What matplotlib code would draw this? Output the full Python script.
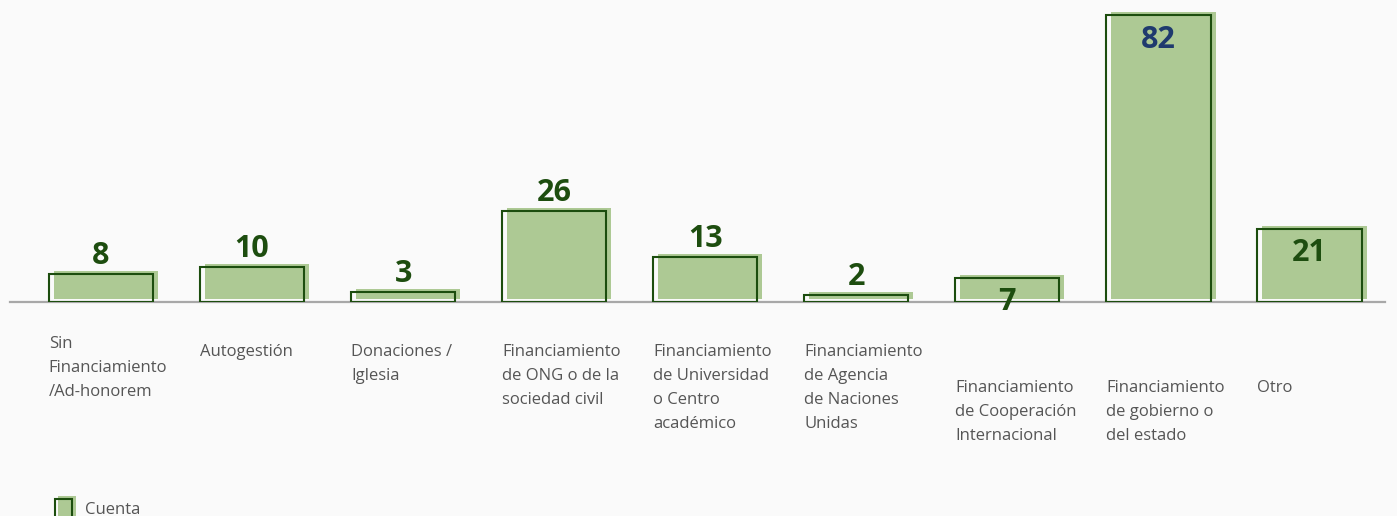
import matplotlib.pyplot as plt
import matplotlib.transforms as mtransforms
from matplotlib.patches import Rectangle
import numpy as np

# data
categories = ['Sin\nFinanciamiento\n/Ad-honorem', 'Autogestión', 'Donaciones /\nIglesia',
              'Financiamiento\nde ONG o de la\nsociedad civil',
              'Financiamiento\nde Universidad\no Centro\nacadémico',
              'Financiamiento\nde Agencia\nde Naciones\nUnidas',
              'Financiamiento\nde Cooperación\nInternacional',
              'Financiamiento\nde gobierno o\ndel estado', 'Otro']
counts = [8, 10, 3, 26, 13, 2, 7, 82, 21]
series_name = 'Cuenta'

# layout / style
label_inside = [False, False, False, False, False, False, True, True, True]
label_drop_px = [34, 42, 42, 42, 42, 42, 78, 78, 78]   # category label top below baseline
FILL = '#adc994'
EDGE = '#1c4d0e'
VAL_GREEN = '#1d4d0f'
VAL_BLUE = '#1f3a6e'
TXT = '#555555'
BG = '#fafafa'
FONT = 'Open Sans'

plt.rcParams['font.family'] = [FONT, 'DejaVu Sans']

W, H = 1397, 516
fig = plt.figure(figsize=(W / 100, H / 100), dpi=100, facecolor=BG)
# axes: x from 10px to 1385px, baseline at 302px from top
ax = fig.add_axes([10 / W, (H - 302) / H, 1375 / W, 302 / H])
ax.set_facecolor(BG)

x = np.arange(len(counts))
bw = 0.69

# filled bars, shifted 5px right and 3px up
fills = ax.bar(x, counts, width=bw, color=FILL, linewidth=0, zorder=2)
shift = mtransforms.ScaledTranslation(5 / 100, 3 / 100, fig.dpi_scale_trans)
for p in fills:
    p.set_transform(ax.transData + shift)
    p.set_clip_on(False)

# outline bars
ax.bar(x, counts, width=bw, facecolor='none', edgecolor=EDGE, linewidth=1.5, zorder=3)

ax.set_xlim(-0.602, 8.5)
ax.set_ylim(0, 302 / 3.5)
for s in ['top', 'right', 'left']:
    ax.spines[s].set_visible(False)
ax.spines['bottom'].set_color('#a8a8a8')
ax.spines['bottom'].set_linewidth(1.6)
ax.spines['bottom'].set_zorder(1)
ax.set_xticks([])
ax.set_yticks([])

# value labels
for i, v in enumerate(counts):
    col = VAL_BLUE if v == max(counts) else VAL_GREEN
    if label_inside[i]:
        ax.annotate(str(v), (x[i], v), xytext=(0, -7), textcoords='offset points',
                    ha='center', va='top', fontsize=22, fontweight='bold', color=col, zorder=4)
    else:
        ax.annotate(str(v), (x[i], v), xytext=(0, 7), textcoords='offset points',
                    ha='center', va='baseline', fontsize=22, fontweight='bold', color=col, zorder=4)

# category labels, left aligned to bar edge
for i, lab in enumerate(categories):
    ax.annotate(lab, (x[i] - bw / 2, 0), xytext=(0, -label_drop_px[i] * 0.72),
                textcoords='offset points', ha='left', va='top', fontsize=12,
                color=TXT, linespacing=1.66, annotation_clip=False)

# legend (bottom left)
fig.add_artist(Rectangle((58 / W, 0), 18 / W, 20 / H, transform=fig.transFigure,
                         facecolor=FILL, edgecolor='none'))
fig.add_artist(Rectangle((55 / W, -2 / H), 17 / W, 19 / H, transform=fig.transFigure,
                         facecolor='none', edgecolor=EDGE, linewidth=1.5))
fig.text(85 / W, 6 / H, series_name, ha='left', va='center', fontsize=12, color=TXT)

fig.savefig('out.png', dpi=100, facecolor=BG)
